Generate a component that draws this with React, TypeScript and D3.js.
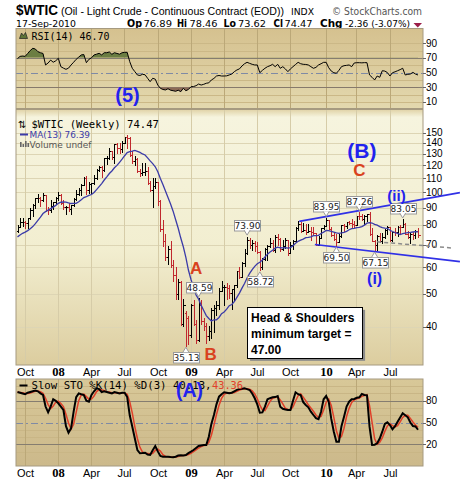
import React from "react";
import * as d3 from "d3";

// ---------- DATA ----------
const START_DATE = "2007-09-14"; // weekly bars (Fridays)
const priorCloses = [69.2, 70.7, 72.8, 73.9, 75.6, 77.0, 75.5, 71.5, 71.9, 71.1, 74.0, 76.7];
const opens = [
  76.7, 79.1, 81.6, 81.7, 81.2, 83.7, 88.6, 91.9, 95.9, 96.3,
  95.1, 98.2, 88.7, 88.3, 91.3, 93.3, 96.0, 97.9, 92.7, 90.6,
  90.7, 89.0, 91.8, 95.5, 98.8, 101.8, 105.2, 110.2, 101.8, 105.6,
  106.2, 110.1, 116.7, 118.5, 116.3, 126.0, 126.3, 132.2, 127.4, 138.5,
  134.9, 134.6, 140.2, 145.3, 145.1, 128.9, 123.3, 125.1, 115.2, 113.8,
  114.6, 115.5, 106.2, 101.2, 104.6, 106.9, 93.9, 77.7, 71.9, 64.2,
  67.8, 61.0, 57.0, 49.9, 54.4, 40.8, 44.0, 42.4, 37.7, 46.3,
  40.8, 36.5, 46.5, 41.7, 40.2, 37.5, 38.9, 44.8, 45.5, 46.3,
  51.1, 52.4, 52.5, 52.2, 50.3, 51.6, 53.2, 58.6, 56.3, 61.7,
  66.3, 72.0, 69.6, 70.8, 69.2, 66.7, 59.9, 63.6, 68.1, 69.5,
  70.9, 67.5, 73.9, 72.7, 68.0, 69.3, 72.0, 66.0, 69.9, 71.8,
  78.5, 80.5, 77.0, 77.4, 76.4, 76.7, 76.1, 75.5, 69.9, 73.4,
  78.1, 79.4, 82.8, 78.0, 74.5, 72.9, 71.2, 74.1, 79.8, 79.7,
  81.5, 81.2, 80.7, 80.0, 84.9, 84.8, 83.2, 85.1, 86.2, 75.1,
  71.6, 70.0, 74.0, 71.5, 73.8, 77.2, 78.9, 72.1, 76.1, 76.0,
  79.0, 78.9, 80.7, 75.4, 73.5, 75.2, 74.6, 76.89,
];
const highs = [
  80.2, 84.1, 83.9, 82.0, 84.1, 90.1, 92.2, 96.2, 98.6, 96.8,
  99.3, 98.2, 90.4, 94.8, 93.5, 97.0, 100.1, 98.5, 94.7, 91.0,
  92.9, 91.8, 96.0, 101.3, 103.0, 106.0, 111.0, 111.8, 107.0, 106.5,
  112.2, 117.0, 119.9, 119.5, 126.2, 127.8, 135.1, 132.5, 139.1, 139.9,
  139.9, 142.0, 145.9, 147.3, 146.0, 132.4, 127.8, 126.4, 117.5, 122.3,
  121.9, 118.6, 108.0, 110.0, 110.5, 107.0, 94.7, 83.0, 75.2, 69.3,
  71.9, 63.0, 59.9, 55.4, 54.6, 48.4, 44.6, 43.0, 46.7, 48.0,
  42.0, 48.59, 48.0, 42.5, 40.9, 40.1, 45.5, 46.3, 47.7, 52.0,
  54.7, 53.1, 53.9, 53.0, 51.6, 53.2, 58.6, 60.1, 62.3, 68.0,
  73.9, 73.2, 72.0, 71.5, 71.0, 66.9, 63.9, 68.5, 69.9, 73.4,
  72.0, 74.7, 75.0, 73.0, 72.3, 73.3, 72.4, 71.1, 72.2, 78.9,
  82.0, 81.5, 81.0, 80.5, 80.5, 78.8, 79.0, 75.9, 74.4, 78.1,
  80.0, 83.95, 83.0, 79.0, 76.0, 75.0, 75.0, 80.0, 80.5, 81.9,
  82.3, 83.2, 82.0, 85.0, 87.26, 86.1, 85.6, 86.3, 87.1, 78.4,
  72.0, 74.5, 75.8, 75.6, 78.0, 79.2, 78.9, 76.3, 78.2, 79.5,
  79.8, 83.05, 81.0, 76.9, 75.9, 76.1, 77.3, 78.46,
];
const lows = [
  76.2, 79.0, 79.3, 78.5, 78.6, 83.4, 85.3, 90.1, 93.7, 91.2,
  94.5, 88.2, 86.2, 87.3, 89.0, 92.5, 95.0, 92.0, 89.1, 86.1,
  88.0, 86.1, 91.0, 94.8, 98.0, 98.2, 104.9, 98.7, 99.6, 99.6,
  106.1, 109.5, 115.3, 110.8, 115.5, 121.6, 125.6, 125.5, 122.2, 130.8,
  131.0, 131.5, 139.5, 135.2, 128.3, 122.4, 120.4, 114.6, 111.3, 112.3,
  112.1, 105.5, 100.5, 90.5, 102.8, 91.6, 76.6, 69.1, 63.0, 61.3,
  60.0, 54.7, 48.3, 48.3, 40.5, 40.3, 35.13, 35.5, 37.3, 40.5,
  35.9, 36.4, 40.8, 39.0, 35.8, 36.5, 37.0, 38.7, 43.4, 45.0,
  51.1, 46.4, 48.4, 48.8, 45.1, 48.0, 52.6, 55.6, 56.1, 60.5,
  65.5, 68.5, 67.5, 67.0, 66.2, 58.72, 59.1, 63.0, 63.1, 69.0,
  67.0, 66.5, 69.6, 66.9, 67.3, 68.2, 65.1, 65.9, 68.1, 71.6,
  77.5, 76.1, 76.6, 75.1, 76.0, 72.4, 74.9, 69.8, 69.6, 73.0,
  77.9, 79.3, 78.0, 74.3, 72.4, 69.5, 71.0, 73.6, 76.9, 78.3,
  80.5, 79.0, 78.9, 79.9, 83.6, 82.5, 80.5, 82.2, 74.9, 71.6,
  67.15, 67.4, 71.3, 70.8, 73.3, 75.3, 71.6, 71.5, 74.6, 74.4,
  75.6, 78.7, 75.1, 73.2, 70.8, 72.7, 73.4, 73.62,
];
const closes = [
  79.1, 81.6, 81.7, 81.2, 83.7, 88.6, 91.9, 95.9, 96.3, 95.1,
  98.2, 88.7, 88.3, 91.3, 93.3, 96.0, 97.9, 92.7, 90.6, 90.7,
  89.0, 91.8, 95.5, 98.8, 101.8, 105.2, 110.2, 101.8, 105.6, 106.2,
  110.1, 116.7, 118.5, 116.3, 126.0, 126.3, 132.2, 127.4, 138.5, 134.9,
  134.6, 140.2, 145.3, 145.1, 128.9, 123.3, 125.1, 115.2, 113.8, 114.6,
  115.5, 106.2, 101.2, 104.6, 106.9, 93.9, 77.7, 71.9, 64.2, 67.8,
  61.0, 57.0, 49.9, 54.4, 40.8, 46.3, 42.4, 37.7, 46.3, 40.8,
  36.5, 46.5, 41.7, 40.2, 37.5, 38.9, 44.8, 45.5, 46.3, 51.1,
  52.4, 52.5, 52.2, 50.3, 51.6, 53.2, 58.6, 56.3, 61.7, 66.3,
  72.0, 69.6, 70.8, 69.2, 66.7, 59.9, 63.6, 68.1, 69.5, 70.9,
  67.5, 73.9, 72.7, 68.0, 69.3, 72.0, 66.0, 69.9, 71.8, 78.5,
  80.5, 77.0, 77.4, 76.4, 76.7, 76.1, 75.5, 69.9, 73.4, 78.1,
  79.4, 82.8, 78.0, 74.5, 72.9, 71.2, 74.1, 79.8, 79.7, 81.5,
  81.2, 80.7, 80.0, 84.9, 84.8, 83.2, 85.1, 86.2, 75.1, 71.6,
  70.0, 74.0, 71.5, 73.8, 77.2, 78.9, 72.1, 76.1, 76.0, 79.0,
  78.9, 80.7, 75.4, 73.5, 75.2, 74.6, 76.83, 74.47,
];
const rsiValues = [
  69, 72, 72.5, 72, 76, 80, 83, 82, 78.4, 77,
  76, 60.3, 63, 67, 64, 66, 69.4, 58, 56, 54.4,
  56, 60.3, 64, 68, 71, 74, 74.5, 63.4, 68, 70,
  73.9, 75, 76.2, 74, 77, 77, 78, 74.8, 77, 76,
  75, 77, 77.5, 77.5, 64.8, 55.8, 51.2, 46.7, 46, 47.6,
  47, 42.2, 37.6, 42.2, 41, 33, 28.6, 27, 26.3, 28,
  26, 25.3, 24.5, 26, 24, 28.6, 25.3, 27, 30.7, 31,
  32.1, 34.4, 33, 34, 35.4, 36, 39.9, 42, 45.3, 46,
  45.3, 45.3, 45.5, 46.7, 48, 51.2, 53.5, 55, 58.9, 62,
  63.9, 62.5, 61.2, 60.3, 60.3, 49.8, 53, 55.8, 58, 59.3,
  61.2, 58, 61.2, 55.8, 58, 55, 51.2, 55, 58, 61,
  63.9, 62, 61.2, 61, 60.3, 58, 55.8, 57, 60.3, 62,
  63.9, 63.9, 56.6, 52, 49.8, 49, 53, 58, 59.3, 59.8,
  60.3, 58, 63, 63.4, 63.4, 63.2, 63.5, 63.4, 46.7, 43.5,
  39.9, 45.3, 43.5, 52.5, 52, 50, 45.3, 49.8, 51, 52.5,
  54, 55.8, 46.7, 47.6, 48, 50.3, 48, 46.7,
];
const stoK = [
  92, 91, 90, 89, 91, 92, 93, 94, 93, 90.2,
  88, 72, 64.1, 72, 82, 80, 76.5, 72, 67.3, 45,
  36, 42, 65, 85, 90.2, 89, 87.9, 80, 78.7, 88,
  93, 97, 96, 92, 93, 92, 91, 90, 92, 91,
  90, 91, 91, 85, 60, 44.3, 28, 12, 7.7, 8,
  8.5, 6, 5.4, 12, 17.7, 10.3, 4, 3, 3, 2.8,
  2.5, 2.3, 3, 4.6, 5, 4.8, 5.4, 8, 10, 12.2,
  15, 17.7, 18.5, 19, 19.1, 30.5, 48, 60.4, 75, 85.6,
  89, 91.6, 91, 90.2, 91, 93, 95, 96, 96.5, 97,
  96, 94.8, 90, 83.4, 75, 63.5, 64, 72, 82, 83.5,
  84.7, 85, 86.5, 71.8, 69, 68, 67.3, 67.3, 80, 91.6,
  89, 87.9, 78, 74.1, 71, 65, 60.4, 56, 54.5, 64.9,
  82, 86.5, 78.7, 55, 37.4, 23.7, 23.7, 45, 58, 72,
  78.7, 82, 82.5, 84, 84.7, 89.3, 87.9, 87.5, 44.3, 19.1,
  19.5, 21.5, 28, 37.4, 48, 50.3, 46.6, 40.7, 45, 51.2,
  57, 62.7, 60, 57.2, 50, 45.3, 44.7, 40.1,
];
const priceTicks = [150, 140, 130, 120, 110, 100, 90, 80, 70, 60, 50, 40];
const rsiTicks = [90, 70, 50, 30, 10];
const stoTicks = [80, 50, 20];
const xTickDates = [
  "2007-10-05", "2008-01-04", "2008-04-04", "2008-07-03", "2008-10-03", "2009-01-02",
  "2009-04-03", "2009-07-02", "2009-10-02", "2010-01-08", "2010-04-01", "2010-07-02",
];
const xTickLabels = ["Oct", "08", "Apr", "Jul", "Oct", "09", "Apr", "Jul", "Oct", "10", "Apr", "Jul"];
const priceTagDates = ["2008-12-19", "2009-01-23", "2009-06-05", "2009-07-10", "2010-01-08", "2010-02-05", "2010-04-09", "2010-05-21", "2010-08-06"];
const priceTagValues = [35.13, 48.59, 73.9, 58.72, 83.95, 69.5, 87.26, 67.15, 83.05];
const priceTagBelow = [true, false, false, true, false, true, false, true, false];
const waveTexts = ["(B)", "C", "(ii)", "(i)", "A", "B"];
const waveDates = ["2010-04-16", "2010-04-09", "2010-07-20", "2010-05-21", "2009-01-16", "2009-02-25"];
const wavePrices = [133.3, 115.6, 97.8, 55.5, 59.6, 33.0];
const waveColors = ["#2222ee", "#d9421e", "#2222ee", "#2222ee", "#d9421e", "#d9421e"];
const waveSizes = [21, 17, 15, 16, 17, 17];
const upperTrend = [{ date: "2009-10-26", value: 82.0 }, { date: "2011-01-10", value: 99.7 }];
const lowerTrend = [{ date: "2009-12-08", value: 70.0 }, { date: "2011-01-10", value: 62.3 }];
const neckline = [{ date: "2010-05-28", value: 71.3 }, { date: "2010-12-19", value: 68.4 }];

// ---------- LAYOUT ----------
const W = 460, H = 482;
const L = 16, R = 423;
const rsiTop = 28.5, rsiBot = 108.5;
const mainTop = 109.5, mainBot = 365;
const stoTop = 379, stoBot = 466;

const parse = d3.timeParse("%Y-%m-%d");

export default function App() {
  const start = parse(START_DATE)!;
  const dates = closes.map((_, i) => d3.timeDay.offset(start, 7 * i));
  const x = d3.scaleTime().domain([dates[0], dates[dates.length - 1]]).range([17.5, 418]);
  const py = d3.scaleLog().domain([40, 150]).range([326.7, 132.7]);
  const ry = d3.scaleLinear().domain([0, 100]).range([109.3, 35.8]);
  const sy = d3.scaleLinear().domain([0, 100]).range([458.9, 386.2]);

  const all = [...priorCloses, ...closes];
  const ma = closes.map((_, i) => d3.mean(all.slice(i + priorCloses.length - 12, i + priorCloses.length + 1))!);
  const stoD = stoK.map((_, i) => d3.mean(stoK.slice(Math.max(0, i - 2), i + 1))!);

  const xi = (i: number) => x(dates[i]);
  const maLine = d3.line<number>().x((_, i) => xi(i)).y((v) => py(v))(ma)!;
  const rsiLine = d3.line<number>().x((_, i) => xi(i)).y((v) => ry(v))(rsiValues)!;
  const rsiAreaHi = d3.area<number>().x((_, i) => xi(i)).y0(ry(70)).y1((v) => ry(v))(rsiValues)!;
  const rsiAreaLo = d3.area<number>().x((_, i) => xi(i)).y0(ry(30)).y1((v) => ry(v))(rsiValues)!;
  const kLine = d3.line<number>().x((_, i) => xi(i)).y((v) => sy(v))(stoK)!;
  const dLine = d3.line<number>().x((_, i) => xi(i)).y((v) => sy(v))(stoD)!;
  const tLine = (pts: { date: string; value: number }[]) =>
    d3.line<{ date: string; value: number }>().x((p) => x(parse(p.date)!)).y((p) => py(p.value))(pts)!;

  const tickXs = xTickDates.map((d) => Math.round(x(parse(d)!)) + 0.5);
  const sans = "Liberation Sans, Arial, sans-serif";
  const mono = "DejaVu Sans Mono, monospace";
  const dv = "DejaVu Sans, Verdana, sans-serif";

  const hsX = x(parse("2009-06-05")!);
  const hsY = py(45.8);

  return (
    <svg width={W} height={H} style={{ position: "absolute", left: 0, top: 0, background: "#fff" }}>
      <defs>
        <linearGradient id="gRsi" x1="0" y1="0" x2="0" y2="1">
          <stop offset="0" stopColor="#d5c18f" />
          <stop offset="1" stopColor="#e3d8ae" />
        </linearGradient>
        <linearGradient id="gMain" x1="0" y1="0" x2="0" y2="1">
          <stop offset="0" stopColor="#e0d2a6" />
          <stop offset="0.03" stopColor="#f6f4de" />
          <stop offset="0.55" stopColor="#f2eed0" />
          <stop offset="1" stopColor="#dccd9f" />
        </linearGradient>
        <linearGradient id="gSto" x1="0" y1="0" x2="0" y2="1">
          <stop offset="0" stopColor="#d8c898" />
          <stop offset="1" stopColor="#ccb98b" />
        </linearGradient>
        <clipPath id="cMain"><rect x={L} y={mainTop} width={R - L} height={mainBot - mainTop} /></clipPath>
        <clipPath id="cRsiHi"><rect x={L} y={rsiTop} width={R - L} height={ry(70) - rsiTop} /></clipPath>
        <clipPath id="cRsiLo"><rect x={L} y={ry(30)} width={R - L} height={rsiBot - ry(30)} /></clipPath>
        <clipPath id="cRsi"><rect x={L} y={rsiTop} width={R - L} height={rsiBot - rsiTop} /></clipPath>
        <clipPath id="cSto"><rect x={L} y={stoTop} width={R - L} height={stoBot - stoTop} /></clipPath>
      </defs>

      {/* header */}
      <text x={16} y={15} fontFamily={sans} fontWeight="bold" fontSize={14} textLength={42} lengthAdjust="spacingAndGlyphs">$WTIC</text>
      <text x={61} y={15} fontFamily={sans} fontSize={10.5} textLength={223} lengthAdjust="spacingAndGlyphs">(Oil - Light Crude - Continuous Contract (EOD))</text>
      <text x={291} y={15} fontFamily={dv} fontSize={9.5} textLength={23} lengthAdjust="spacingAndGlyphs">INDX</text>
      <text x={332} y={15} fontFamily={dv} fontSize={10.5} fill="#555" textLength={90} lengthAdjust="spacingAndGlyphs">© StockCharts.com</text>
      <text x={16} y={27} fontFamily={dv} fontSize={9.5} textLength={60} lengthAdjust="spacingAndGlyphs">17-Sep-2010</text>
      {[
        ["Op", 127, 15, true], ["76.89", 143.5, 28.5, false], ["Hi", 177, 10, true], ["78.46", 189.5, 28, false],
        ["Lo", 223.5, 12.5, true], ["73.62", 238, 28, false], ["Cl", 273.5, 9.5, true], ["74.47", 284.5, 28, false],
        ["Chg", 320, 22.5, true], ["-2.36 (-3.07%)", 345, 65, false],
      ].map(([t, xx, tl, b], k) => (
        <text key={k} x={xx as number} y={27} fontFamily={dv} fontSize={b ? 10.5 : 9.5} fontWeight={b ? "bold" : "normal"}
          textLength={tl as number} lengthAdjust="spacingAndGlyphs">{t as string}</text>
      ))}
      <path d="M413.5,23 L422,23 L417.75,27.5 Z" fill="#9b1d48" />

      {/* ---------- RSI panel ---------- */}
      <rect x={L} y={rsiTop} width={R - L} height={rsiBot - rsiTop} fill="url(#gRsi)" />
      {[10, 20, 40, 60, 80, 90].map((v) => (
        <line key={v} x1={L} x2={R} y1={Math.round(ry(v)) + 0.5} y2={Math.round(ry(v)) + 0.5} stroke="#cbb887" strokeWidth={1} />
      ))}
      {tickXs.map((tx, k) => <line key={k} x1={tx} x2={tx} y1={rsiTop} y2={rsiBot} stroke="#bba878" />)}
      <line x1={L} x2={R} y1={Math.round(ry(70)) + 0.5} y2={Math.round(ry(70)) + 0.5} stroke="#857d70" />
      <line x1={L} x2={R} y1={Math.round(ry(30)) + 0.5} y2={Math.round(ry(30)) + 0.5} stroke="#857d70" />
      <line x1={L} x2={R} y1={Math.round(ry(50)) + 0.5} y2={Math.round(ry(50)) + 0.5} stroke="#7f8aa5" strokeDasharray="7,3,2,3" />
      <path d={rsiAreaHi} fill="#6b7d42" clipPath="url(#cRsiHi)" />
      <path d={rsiAreaLo} fill="#8c6a56" clipPath="url(#cRsiLo)" />
      <path d={rsiLine} fill="none" stroke="#000" strokeWidth={1} clipPath="url(#cRsi)" />
      <rect x={L} y={rsiTop} width={R - L} height={rsiBot - rsiTop} fill="none" stroke="#a69a80" />
      {rsiTicks.map((v) => (
        <g key={v}>
          <line x1={R} x2={R + 3} y1={Math.round(ry(v)) + 0.5} y2={Math.round(ry(v)) + 0.5} stroke="#666" />
          <text x={426} y={ry(v) + 3.5} fontFamily={sans} fontSize={10}>{v}</text>
        </g>
      ))}
      <path d="M19.5,38.5 L21.5,33 L23.5,35.5 L25.5,32.5 L27.5,38.5 Z" fill="#5d7438" stroke="#222" strokeWidth={0.7} />
      <text x={31.5} y={39.5} fontFamily={mono} fontSize={10} textLength={78} lengthAdjust="spacingAndGlyphs">RSI(14) 46.70</text>
      <text x={127.5} y={ry(19.5)} fontFamily={sans} fontWeight="bold" fontSize={20} fill="#2222ee" textAnchor="middle" dominantBaseline="central">(5)</text>

      {/* ---------- Main panel ---------- */}
      <rect x={L} y={mainTop} width={R - L} height={mainBot - mainTop} fill="url(#gMain)" />
      {priceTicks.map((v) => (
        <line key={v} x1={L} x2={R} y1={Math.round(py(v)) + 0.5} y2={Math.round(py(v)) + 0.5} stroke="#ddd5b4" />
      ))}
      {tickXs.map((tx, k) => <line key={k} x1={tx} x2={tx} y1={mainTop} y2={mainBot} stroke="#d6cca8" />)}
      <g clipPath="url(#cMain)" shapeRendering="crispEdges">
        {dates.map((d, i) => {
          const xx = Math.round(x(d)) + 0.5;
          const prev = i ? closes[i - 1] : priorCloses[priorCloses.length - 1];
          const c = closes[i] >= prev ? "#000" : "#c0282e";
          const yo = Math.round(py(opens[i])) + 0.5;
          const yc = Math.round(py(closes[i])) + 0.5;
          return (
            <g key={i} stroke={c} strokeWidth={1}>
              <line x1={xx} x2={xx} y1={Math.round(py(highs[i]))} y2={Math.round(py(lows[i])) + 1} />
              <line x1={xx - 2} x2={xx} y1={yo} y2={yo} />
              <line x1={xx} x2={xx + 2} y1={yc} y2={yc} />
            </g>
          );
        })}
      </g>
      <path d={maLine} fill="none" stroke="#3b3ba8" strokeWidth={1.3} clipPath="url(#cMain)" />
      <rect x={L} y={mainTop} width={R - L} height={mainBot - mainTop} fill="none" stroke="#a69a80" />
      {priceTicks.map((v) => (
        <g key={v}>
          <line x1={R} x2={R + 3} y1={Math.round(py(v)) + 0.5} y2={Math.round(py(v)) + 0.5} stroke="#666" />
          <text x={426} y={py(v) + 3.5} fontFamily={sans} fontSize={10}>{v}</text>
        </g>
      ))}
      {/* trend lines */}
      <path d={tLine(upperTrend)} stroke="#3030e6" strokeWidth={1.6} fill="none" />
      <path d={tLine(lowerTrend)} stroke="#3030e6" strokeWidth={1.6} fill="none" />
      <path d={tLine(neckline)} stroke="#8a8a8a" strokeWidth={1.5} strokeDasharray="4,3" fill="none" />

      {/* legend main */}
      <text x={18} y={127.5} fontFamily={dv} fontSize={10}>⇅</text>
      <text x={31.5} y={127.5} fontFamily={mono} fontSize={10.5} textLength={127.5} lengthAdjust="spacingAndGlyphs">$WTIC (Weekly) 74.47</text>
      <line x1={20} x2={28} y1={134.5} y2={134.5} stroke="#3b3ba8" strokeWidth={2} />
      <text x={29.5} y={138} fontFamily={dv} fontSize={9.5} fill="#3b3ba8" textLength={60.5} lengthAdjust="spacingAndGlyphs">MA(13) 76.39</text>
      <g fill="#666">
        <rect x={20} y={142} width={1.6} height={5} />
        <rect x={22.5} y={144} width={1.6} height={3} />
        <rect x={25} y={141} width={1.6} height={6} />
        <rect x={27.5} y={143} width={1.6} height={4} />
      </g>
      <text x={29.5} y={148} fontFamily={dv} fontSize={9.5} fill="#555" textLength={62} lengthAdjust="spacingAndGlyphs">Volume undef</text>

      {/* price tags */}
      {priceTagValues.map((v, k) => {
        const cx = x(parse(priceTagDates[k])!);
        const yp = py(v);
        const below = priceTagBelow[k];
        const bw = 26, bh = 10.5;
        const by = below ? yp + 6 : yp - 6 - bh;
        const tri = below
          ? `M${cx - 3},${by + 0.5} L${cx},${yp + 1.5} L${cx + 3},${by + 0.5}`
          : `M${cx - 3},${by + bh - 0.5} L${cx},${yp - 1.5} L${cx + 3},${by + bh - 0.5}`;
        return (
          <g key={k}>
            <rect x={Math.round(cx - bw / 2) + 0.5} y={Math.round(by) + 0.5} width={bw} height={bh} fill="#fff" stroke="#9a9a9a" />
            <path d={tri} fill="#fff" stroke="#9a9a9a" />
            <text x={Math.round(cx) + 0.5} y={Math.round(by) + 9} fontFamily={dv} fontSize={9} textAnchor="middle" fill="#222">
              {v.toFixed(2)}
            </text>
          </g>
        );
      })}

      {/* wave labels */}
      {waveTexts.map((t, k) => (
        <text key={k} x={x(parse(waveDates[k])!)} y={py(wavePrices[k])} fontFamily={sans} fontWeight="bold" fontSize={waveSizes[k]}
          fill={waveColors[k]} textAnchor="middle" dominantBaseline="central">{t}</text>
      ))}

      {/* H&S box */}
      <rect x={hsX + 3} y={hsY + 3} width={115} height={51} fill="#8a8a8a" />
      <rect x={Math.round(hsX) + 0.5} y={Math.round(hsY) + 0.5} width={115} height={51} fill="#fff" stroke="#000" />
      <text fontFamily={sans} fontWeight="bold" fontSize={12} fill="#000">
        <tspan x={hsX + 4} y={hsY + 15}>Head &amp; Shoulders</tspan>
        <tspan x={hsX + 4} y={hsY + 31}>minimum target =</tspan>
        <tspan x={hsX + 4} y={hsY + 47}>47.00</tspan>
      </text>

      {/* x axis labels (middle) */}
      {tickXs.map((tx, k) => {
        const yr = /^\d/.test(xTickLabels[k]);
        return (
          <text key={k} x={tx} y={376} textAnchor="middle" fontFamily={yr ? "Liberation Serif, serif" : sans}
            fontWeight={yr ? "bold" : "normal"} fontSize={yr ? 12.5 : 11}>{xTickLabels[k]}</text>
        );
      })}

      {/* ---------- STO panel ---------- */}
      <rect x={L} y={stoTop} width={R - L} height={stoBot - stoTop} fill="url(#gSto)" />
      {[10, 30, 40, 60, 70, 90, 100].map((v) => (
        <line key={v} x1={L} x2={R} y1={Math.round(sy(v)) + 0.5} y2={Math.round(sy(v)) + 0.5} stroke="#c9b686" />
      ))}
      {tickXs.map((tx, k) => <line key={k} x1={tx} x2={tx} y1={stoTop} y2={stoBot} stroke="#bba878" />)}
      <line x1={L} x2={R} y1={Math.round(sy(80)) + 0.5} y2={Math.round(sy(80)) + 0.5} stroke="#857d70" />
      <line x1={L} x2={R} y1={Math.round(sy(20)) + 0.5} y2={Math.round(sy(20)) + 0.5} stroke="#857d70" />
      <line x1={L} x2={R} y1={Math.round(sy(50)) + 0.5} y2={Math.round(sy(50)) + 0.5} stroke="#7f8aa5" strokeDasharray="7,3,2,3" />
      <g clipPath="url(#cSto)">
        <path d={dLine} fill="none" stroke="#e0402a" strokeWidth={1.5} />
        <path d={kLine} fill="none" stroke="#000" strokeWidth={2} />
      </g>
      <rect x={L} y={stoTop} width={R - L} height={stoBot - stoTop} fill="none" stroke="#a69a80" />
      {stoTicks.map((v) => (
        <g key={v}>
          <line x1={R} x2={R + 3} y1={Math.round(sy(v)) + 0.5} y2={Math.round(sy(v)) + 0.5} stroke="#666" />
          <text x={426} y={sy(v) + 3.5} fontFamily={sans} fontSize={10}>{v}</text>
        </g>
      ))}
      <line x1={19.5} x2={27.5} y1={385.5} y2={385.5} stroke="#000" strokeWidth={2} />
      <text x={31.5} y={389} fontFamily={mono} fontSize={10.3} textLength={180} lengthAdjust="spacingAndGlyphs">Slow STO %K(14) %D(3) 40.13, </text>
      <text x={212} y={389} fontFamily={mono} fontSize={10.3} fill="#e0402a" textLength={31} lengthAdjust="spacingAndGlyphs">43.36</text>
      <text x={x(parse("2008-12-29")!)} y={sy(95)} fontFamily={sans} fontWeight="bold" fontSize={19.5} fill="#2222ee"
        textAnchor="middle" dominantBaseline="central">(A)</text>

      {/* x axis labels (bottom) */}
      {tickXs.map((tx, k) => {
        const yr = /^\d/.test(xTickLabels[k]);
        return (
          <text key={k} x={tx} y={477} textAnchor="middle" fontFamily={yr ? "Liberation Serif, serif" : sans}
            fontWeight={yr ? "bold" : "normal"} fontSize={yr ? 12.5 : 11}>{xTickLabels[k]}</text>
        );
      })}
    </svg>
  );
}
